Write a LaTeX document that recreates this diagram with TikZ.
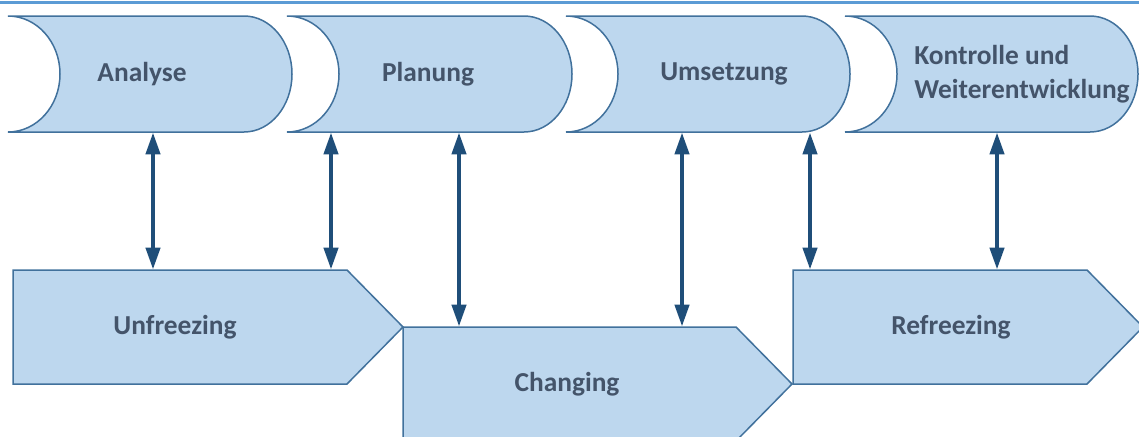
\documentclass[tikz,border=0pt]{standalone}
\usepackage{fontspec}
\setmainfont{Carlito}
\usetikzlibrary{arrows.meta}

\definecolor{bleuclair}{RGB}{189,215,238}
\definecolor{bleubord}{RGB}{65,113,156}
\definecolor{bleufonce}{RGB}{31,78,121}
\definecolor{ardoise}{RGB}{68,84,106}
\definecolor{bleuligne}{RGB}{91,155,213}

\begin{document}
\begin{tikzpicture}[x=0.5pt,y=0.5pt]
\tikzstyle{lien}=[{Triangle[length=11pt,width=7pt]}-{Triangle[length=11pt,width=7pt]},line width=2.1pt,draw=bleufonce]
\tikzset{forme/.style={fill=bleuclair,draw=bleubord,line width=0.75pt},
etape/.style={inner sep=0pt,minimum height=#1,align=left,text=ardoise,
  font=\bfseries\fontsize{13.7}{17}\selectfont},
etape/.default={58pt}}
\clip (0,0) rectangle (1139,436);
\draw[bleuligne,line width=1.5pt] (0,434) -- (1139,434);

% phases du haut
\foreach \g/\d in {8/292,287/572,566/850,845/1138}
  \path[forme] (\g,420) -- (\d-48,420) arc[start angle=90,end angle=-90,x radius=48,y radius=58]
    -- (\g,304) arc[start angle=-90,end angle=90,x radius=52,y radius=58] -- cycle;

% fleches du bas
\foreach \g/\h/\p in {13/166/347,403/109/736,793/166/1087}
  \path[forme] (\g,\h) -- (\p,\h) -- (\p+56,\h-57) -- (\p,\h-114) -- (\g,\h-114) -- cycle;

\node[etape] (analyse) at (142,362) {Analyse};
\node[etape] (planung) at (428,362) {Planung};
\node[etape] (umsetzung) at (724,362) {Umsetzung};
\node[etape] (kontrolle) at (1022,362) {Kontrolle und\\Weiterentwicklung};
\node[etape=57pt] (unfreezing) at (175,109) {Unfreezing};
\node[etape=57pt] (changing) at (567,52) {Changing};
\node[etape=57pt] (refreezing) at (951,109) {Refreezing};

\foreach \n/\x in {a/153,b/331,c/459,d/682,e/810,f/997}
  \coordinate (\n) at (\x,0);

\draw[lien] (analyse.south -| a) -- (unfreezing.north -| a);
\draw[lien] (planung.south -| b) -- (unfreezing.north -| b);
\draw[lien] (planung.south -| c) -- (changing.north -| c);
\draw[lien] (umsetzung.south -| d) -- (changing.north -| d);
\draw[lien] (umsetzung.south -| e) -- (refreezing.north -| e);
\draw[lien] (kontrolle.south -| f) -- (refreezing.north -| f);

\end{tikzpicture}
\end{document}
